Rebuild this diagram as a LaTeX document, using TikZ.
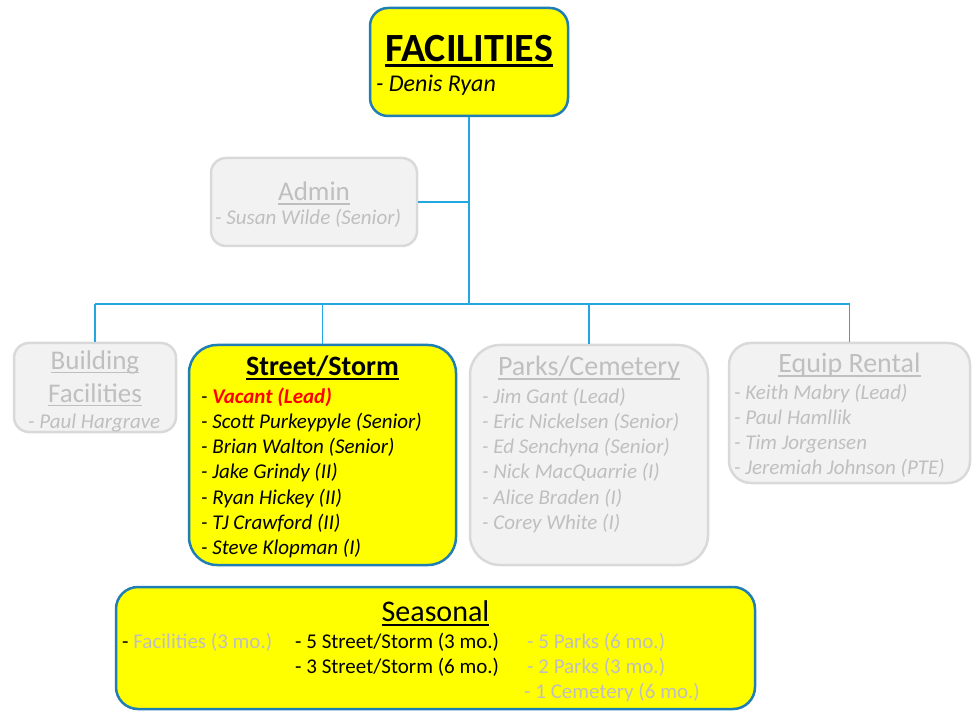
\documentclass[tikz,border=0pt]{standalone}
\usepackage{fontspec}
\setmainfont{Carlito}
\definecolor{yfill}{HTML}{FFFF00}
\definecolor{bborder}{HTML}{1F7EB4}
\definecolor{conncol}{HTML}{22A7E0}
\definecolor{gfill}{HTML}{F2F2F2}
\definecolor{gborder}{HTML}{D9D9D9}
\definecolor{gtext}{HTML}{BFBFBF}
\definecolor{redtext}{HTML}{FF0000}
\newcommand\ulin[3]{\leavevmode\setbox0=\hbox{#3}\rlap{\copy0}\rule[-#2]{\wd0}{#1}}
\tikzset{
  ybox/.style={draw=bborder, fill=yfill, line width=2.5pt, inner sep=0pt},
  gbox/.style={draw=gborder, fill=gfill, line width=2.5pt, inner sep=0pt},
  conn/.style={draw=conncol, line width=1.6pt},
  ttl/.style={anchor=base, inner sep=0pt, font=\fontsize{27}{32}\selectfont},
  lst/.style={anchor=base west, inner sep=0pt, font=\fontsize{21}{25}\selectfont\itshape},
  sea/.style={anchor=base west, inner sep=0pt, font=\fontsize{21}{25}\selectfont},
}
\begin{document}
\begin{tikzpicture}[x=1pt,y=-1pt]
\useasboundingbox (0,0) rectangle (972,711);
% boxes
\node[ybox, rounded corners=18pt, minimum width=198pt, minimum height=108pt] (fac) at (469,62) {};
\node[gbox, rounded corners=15pt, minimum width=206pt, minimum height=88pt] (adm) at (314,202) {};
\node[gbox, rounded corners=15pt, minimum width=162pt, minimum height=89pt] (bld) at (95,387.5) {};
\node[ybox, rounded corners=28pt, minimum width=267pt, minimum height=220pt] (str) at (322.5,455) {};
\node[gbox, rounded corners=30pt, minimum width=238pt, minimum height=220pt] (prk) at (589,455) {};
\node[gbox, rounded corners=22pt, minimum width=241pt, minimum height=140pt] (eqp) at (849.5,413) {};
\node[ybox, rounded corners=22pt, minimum width=639pt, minimum height=122pt] (sea) at (435.5,648) {};
% connectors
\coordinate (j) at (469,304);
\draw[conn] (fac.south) -- (j);
\draw[conn] (adm.east) -- (adm.east -| fac.south);
\draw[conn] (bld.north |- j) -- (eqp.north |- j);
\draw[conn] (bld.north |- j) -- (bld.north);
\draw[conn] (str.north |- j) -- (str.north);
\draw[conn] (prk.north |- j) -- (prk.north);
\draw[conn] (eqp.north |- j) -- (eqp.north);
% Facilities
\node[anchor=base, inner sep=0pt, font=\fontsize{40}{48}\selectfont\bfseries] (facT) at (469,62) {\ulin{3pt}{5.5pt}{FACILITIES}};
\node[anchor=base west, inner sep=0pt, font=\fontsize{24}{28}\selectfont\itshape] (facN) at (376,92) {- Denis Ryan};
% Admin
\node[ttl, text=gtext] (admT) at (314,201) {\ulin{1.5pt}{4pt}{Admin}};
\node[lst, text=gtext] (admN) at (215,225) {- Susan Wilde (Senior)};
% Building
\node[ttl, text=gtext] (bldT1) at (95,369) {\ulin{1.5pt}{4pt}{Building}};
\node[ttl, text=gtext] (bldT2) at (95,402) {\ulin{1.5pt}{4pt}{Facilities}};
\node[lst, text=gtext] (bldN) at (28,428) {- Paul Hargrave};
% Street/Storm
\node[anchor=base, inner sep=0pt, font=\fontsize{28}{32}\selectfont\bfseries] (strT) at (322.5,375) {\ulin{2.5pt}{5pt}{Street/Storm}};
\node[lst] (s1) at (201,403) {- \textcolor{redtext}{\bfseries Vacant (Lead)}};
\node[lst] (s2) at (201,428.3) {- Scott Purkeypyle (Senior)};
\node[lst] (s3) at (201,453.6) {- Brian Walton (Senior)};
\node[lst] (s4) at (201,478.9) {- Jake Grindy (II)};
\node[lst] (s5) at (201,504.2) {- Ryan Hickey (II)};
\node[lst] (s6) at (201,529.5) {- TJ Crawford (II)};
\node[lst] (s7) at (201,554.8) {- Steve Klopman (I)};
% Parks
\node[ttl, text=gtext, font=\fontsize{28}{32}\selectfont] (prkT) at (589,375) {\ulin{1.5pt}{4.5pt}{Parks/Cemetery}};
\node[lst, text=gtext] (p1) at (482,403) {- Jim Gant (Lead)};
\node[lst, text=gtext] (p2) at (482,428.3) {- Eric Nickelsen (Senior)};
\node[lst, text=gtext] (p3) at (482,453.6) {- Ed Senchyna (Senior)};
\node[lst, text=gtext] (p4) at (482,478.9) {- Nick MacQuarrie (I)};
\node[lst, text=gtext] (p5) at (482,504.2) {- Alice Braden (I)};
\node[lst, text=gtext] (p6) at (482,529.5) {- Corey White (I)};
% Equip
\node[ttl, text=gtext, font=\fontsize{28}{32}\selectfont] (eqpT) at (849.5,372) {\ulin{1.5pt}{4.5pt}{Equip Rental}};
\node[lst, text=gtext] (e1) at (734,399) {- Keith Mabry (Lead)};
\node[lst, text=gtext] (e2) at (734,424.3) {- Paul Hamllik};
\node[lst, text=gtext] (e3) at (734,449.6) {- Tim Jorgensen};
\node[lst, text=gtext] (e4) at (734,474.9) {- Jeremiah Johnson (PTE)};
% Seasonal
\node[anchor=base, inner sep=0pt, font=\fontsize{30}{34}\selectfont] (seaT) at (435.5,621) {\ulin{2.5pt}{5pt}{Seasonal}};
\node[sea] (q1) at (122,648) {- \textcolor{gtext}{Facilities (3 mo.)}};
\node[sea] (q2) at (295,648) {- 5 Street/Storm (3 mo.)};
\node[sea] (q3) at (295,673) {- 3 Street/Storm (6 mo.)};
\node[sea, text=gtext] (q4) at (527,648) {- 5 Parks (6 mo.)};
\node[sea, text=gtext] (q5) at (527,673) {- 2 Parks (3 mo.)};
\node[sea, text=gtext] (q6) at (524,698) {- 1 Cemetery (6 mo.)};
\end{tikzpicture}
\end{document}
